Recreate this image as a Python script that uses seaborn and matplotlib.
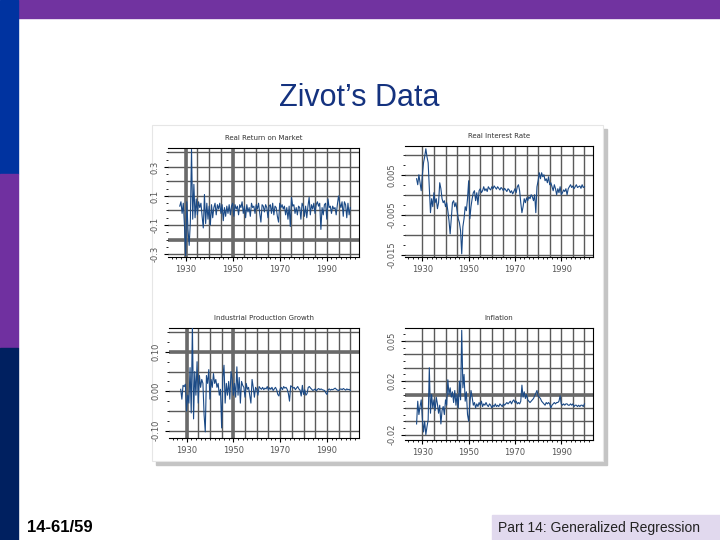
import numpy as np
import seaborn as sns
import matplotlib
matplotlib.use('Agg')
import matplotlib.pyplot as plt
from matplotlib.patches import Rectangle
from matplotlib.ticker import MultipleLocator, FixedLocator, FixedFormatter

# half-yearly readings, 1927.5 .. 2000
years = np.arange(1927.5, 2000.01, 0.5)

real_return = [
    0.03, 0.06, -0.02, 0.05, -0.10, -0.31, 0.06, -0.13, -0.24, -0.08,
    0.42, -0.06, 0.18, -0.05, 0.08, -0.03, 0.06, 0.02, 0.05, -0.04,
    -0.12, 0.11, -0.09, 0.05, -0.06, 0.03, -0.10, 0.04, -0.05, 0.02,
    0.05, -0.03, 0.04, 0.01, 0.05, -0.02, 0.04, -0.07, 0.02, -0.04,
    0.03, -0.02, 0.04, -0.03, 0.03, 0.05, -0.04, 0.04, 0.01, 0.03,
    -0.03, 0.04, 0.02, 0.06, -0.02, 0.03, -0.05, 0.04, -0.01, 0.02,
    -0.04, 0.05, 0.02, 0.03, -0.02, 0.04, 0.01, 0.05, -0.02, -0.08,
    0.04, 0.03, -0.01, 0.04, 0.02, -0.05, 0.03, 0.04, -0.02, 0.05,
    -0.03, 0.03, 0.02, -0.04, -0.08, 0.05, 0.02, 0.04, 0.01, 0.03,
    -0.03, 0.02, -0.06, 0.03, -0.11, 0.09, 0.03, 0.04, -0.02, 0.02,
    -0.03, 0.03, 0.02, -0.06, 0.05, 0.03, -0.04, 0.03, -0.05, 0.03,
    0.09, -0.03, 0.04, 0.01, 0.05, -0.02, 0.04, 0.06, 0.03, 0.05,
    -0.13, 0.02, -0.03, 0.04, 0.05, -0.06, 0.08, 0.02, 0.03, -0.02,
    0.03, 0.01, 0.02, -0.03, 0.04, 0.10, 0.05, 0.02, 0.06, -0.04,
    0.06, 0.04, -0.05, 0.05, -0.03, 0.02,
]

real_rate = [
    0.004, 0.0025, 0.005, 0.003, 0.001, 0.005, 0.008, 0.0095, 0.0115, 0.0095,
    0.008, 0.002, -0.0045, -0.001, -0.003, 0.0005, -0.002, -0.001, -0.0035, -0.002,
    0.003, 0.0015, -0.001, -0.002, -0.0015, -0.003, -0.002, -0.004, -0.0065, -0.0098,
    -0.006, -0.002, -0.0015, -0.003, -0.002, -0.004, -0.006, -0.007, -0.009, -0.0148,
    -0.008, -0.006, -0.003, -0.004, -0.001, 0.0035, -0.006, -0.003, -0.001, 0.0005,
    0.001, -0.0015, 0.0005, -0.0025, 0.001, 0.0015, 0.0005, 0.001, 0.002, 0.001,
    0.0015, 0.0008, 0.002, 0.0015, 0.0012, 0.002, 0.0015, 0.0022, 0.0018, 0.0014,
    0.002, 0.0016, 0.0012, 0.0018, 0.0015, 0.001, 0.0016, 0.0012, 0.0008, 0.0015,
    0.0012, 0.0005, 0.001, 0.0002, 0.0008, 0.0015, 0.0005, 0.002, 0.0025, 0.001,
    -0.002, -0.0045, -0.003, -0.001, -0.002, -0.0008, -0.0015, -0.0005, -0.001, 0.0,
    -0.0005, -0.0015, 0.0, -0.0045, 0.002, 0.0035, 0.0055, 0.004, 0.0055, 0.0045,
    0.005, 0.0035, 0.004, 0.003, 0.0045, 0.0025, 0.003, 0.002, 0.001, 0.0025,
    0.0015, 0.0, 0.0015, 0.0005, 0.002, 0.0, 0.0005, 0.0012, 0.0008, 0.0015,
    0.0, 0.0015, 0.002, 0.0025, 0.0018, 0.0022, 0.0015, 0.002, 0.0025, 0.0018,
    0.002, 0.0022, 0.0016, 0.0025, 0.0018, 0.002,
]

ind_prod = [
    0.005, -0.02, 0.015, 0.012, 0.018, -0.05, -0.01, -0.03, 0.06, -0.055,
    0.17, -0.07, 0.05, -0.01, 0.075, -0.03, 0.04, 0.01, 0.03, 0.02,
    -0.06, -0.103, 0.04, 0.02, 0.055, -0.02, 0.03, 0.01, 0.045, 0.02,
    0.03, 0.01, 0.02, -0.01, 0.005, -0.093, 0.035, 0.066, -0.03, 0.02,
    -0.01, 0.025, -0.02, 0.05, 0.03, -0.01, 0.02, -0.015, 0.062, -0.01,
    0.035, -0.03, 0.025, 0.015, 0.01, -0.015, 0.02, 0.005, 0.01, -0.01,
    -0.03, 0.03, 0.01, -0.015, 0.01, 0.005, -0.01, 0.012, 0.008, 0.005,
    0.01, 0.004, 0.008, 0.006, 0.012, 0.003, 0.009, 0.005, 0.01, 0.002,
    0.006, 0.01, 0.004, -0.008, -0.012, 0.006, 0.01, 0.004, 0.012, 0.008,
    0.01, 0.005, -0.005, -0.025, 0.014, 0.012, 0.008, 0.01, 0.004, 0.008,
    0.012, 0.006, 0.003, -0.012, 0.015, -0.008, 0.004, -0.01, -0.006, 0.01,
    0.012, 0.008, 0.005, 0.002, 0.004, 0.006, 0.001, 0.005, 0.007, 0.004,
    0.006, 0.004, 0.003, 0.002, -0.004, -0.008, 0.004, 0.006, 0.003, 0.005,
    0.004, 0.006, 0.008, 0.005, 0.003, 0.002, 0.005, 0.006, 0.004, 0.007,
    0.005, 0.003, 0.006, 0.004, 0.005, 0.002,
]

inflation = [
    -0.012, 0.005, -0.005, 0.001, 0.006, -0.008, -0.018, -0.010, -0.020, -0.014,
    -0.009, 0.030, -0.004, 0.010, 0.0, 0.006, -0.002, 0.008, 0.003, -0.004,
    0.002, -0.012, -0.002, 0.001, -0.005, 0.006, 0.002, 0.021, 0.010, 0.015,
    0.008, 0.012, 0.004, 0.013, 0.002, 0.010, 0.0, 0.020, 0.006, 0.058,
    0.015, 0.025, 0.005, 0.012, -0.005, -0.010, 0.003, 0.013, 0.008, 0.002,
    0.004, 0.0, 0.003, 0.001, 0.004, 0.002, 0.005, 0.001, 0.003, 0.002,
    0.004, 0.002, 0.001, 0.003, 0.002, 0.0, 0.002, 0.001, 0.003, 0.001,
    0.002, 0.001, 0.003, 0.002, 0.001, 0.003, 0.002, 0.003, 0.004, 0.003,
    0.004, 0.005, 0.003, 0.005, 0.006, 0.004, 0.005, 0.003, 0.004, 0.003,
    0.005, 0.017, 0.008, 0.012, 0.007, 0.010, 0.006, 0.005, 0.004, 0.005,
    0.006, 0.007, 0.009, 0.011, 0.013, 0.009, 0.008, 0.007, 0.005, 0.004,
    0.003, 0.002, 0.004, 0.003, 0.004, 0.003, 0.0, 0.002, 0.003, 0.004,
    0.003, 0.004, 0.004, 0.005, 0.009, 0.003, 0.002, 0.003, 0.002, 0.003,
    0.003, 0.002, 0.002, 0.003, 0.002, 0.003, 0.001, 0.002, 0.002, 0.001,
    0.002, 0.001, 0.002, 0.002, 0.001, 0.003,
]

year_labels = ['1930', '1950', '1970', '1990']

# title, series, ylim, grid step, labelled ticks, tick texts, thick lines
panels = [
    ('Real Return on Market', real_return, (-0.32, 0.43), 0.1,
     [0.3, 0.1, -0.1, -0.3], ['0.3', '0.1', '-0.1', '-0.3'],
     [1930, 1950], [-0.2]),
    ('Real Interest Rate', real_rate, (-0.0156, 0.0122), 0.005,
     [0.005, -0.005, -0.015], ['0.005', '-0.005', '-0.015'],
     [], []),
    ('Industrial Production Growth', ind_prod, (-0.1185, 0.1605), 0.05,
     [0.10, 0.00, -0.10], ['0.10', '0.00', '-0.10'],
     [1930, 1950], [0.10]),
    ('Inflation', inflation, (-0.024, 0.0597), 0.01,
     [0.05, 0.02, -0.02], ['0.05', '0.02', '-0.02'],
     [], [0.01]),
]

# axes boxes in pixels: left, top, right, bottom
boxes = [(168, 148, 359, 257), (405, 146, 593, 257),
         (169, 328, 359, 438), (405, 328, 593, 440)]

W, H = 720, 540
fig = plt.figure(figsize=(7.2, 5.4), dpi=100)
fig.patch.set_facecolor('white')


def add_rect(x, y, w, h, **kw):
    # pixel box measured from the top-left corner of the slide
    fig.patches.append(Rectangle((x / W, 1 - (y + h) / H), w / W, h / H,
                                 transform=fig.transFigure, zorder=-5, **kw))


# slide decoration
add_rect(18, 0, 702, 18, color='#7133A0')
add_rect(0, 0, 18, 174, color='#0033A0')
add_rect(0, 174, 18, 174, color='#7030A0')
add_rect(0, 348, 18, 192, color='#002060')
add_rect(492, 515, 228, 25, color='#E1D9EE')

# panel with drop shadow
add_rect(156, 129, 451, 336, color='#C4C4C4')
add_rect(152, 125, 451, 336, facecolor='white', edgecolor='#E6E6E6', lw=0.8)

fig.text(359 / W, 1 - 98 / H, 'Zivot\u2019s Data', ha='center', va='center',
         fontsize=22, color='#14327F', family='Liberation Sans')
fig.text(27 / W, 1 - 527 / H, '14-61/59', ha='left', va='center',
         fontsize=12, fontweight='bold', color='black', family='Liberation Sans')
fig.text(498 / W, 1 - 528 / H, 'Part 14: Generalized Regression', ha='left', va='center',
         fontsize=10, color='#222222', family='Liberation Sans')

for (title, vals, ylim, step, yt, ytl, vthick, hthick), (l, t, r, b) in zip(panels, boxes):
    ax = fig.add_axes([l / W, 1 - b / H, (r - l) / W, (b - t) / H])
    ax.set_facecolor('white')
    for xv in np.arange(1930, 2001, 5):
        ax.axvline(xv, color='#5A5A5A', lw=1.0, zorder=1)
    lo = np.ceil(ylim[0] / step - 1e-6) * step
    for yv in np.arange(lo, ylim[1], step):
        ax.axhline(yv, color='#5A5A5A', lw=1.0, zorder=1)
    for xv in vthick:
        ax.axvline(xv, color='#6A6A6A', lw=2.6, zorder=1)
    for yv in hthick:
        ax.axhline(yv, color='#6A6A6A', lw=2.6, zorder=1)

    sns.lineplot(x=years, y=vals, ax=ax, color='#1B4A86', linewidth=0.8, zorder=3)

    ax.set_xlim(1922.5, 2003.7)
    ax.set_ylim(*ylim)
    ax.xaxis.set_major_locator(FixedLocator([1930, 1950, 1970, 1990]))
    ax.xaxis.set_major_formatter(FixedFormatter(year_labels))
    ax.xaxis.set_minor_locator(MultipleLocator(2))
    ax.yaxis.set_major_locator(FixedLocator(yt))
    ax.yaxis.set_major_formatter(FixedFormatter(ytl))
    ax.yaxis.set_minor_locator(MultipleLocator(step / 2))
    ax.tick_params(axis='both', which='major', labelsize=6, labelcolor='#555555',
                   color='black', length=3, width=0.8, pad=3)
    ax.tick_params(axis='both', which='minor', color='black', length=1.5, width=0.6)
    for lab in ax.get_yticklabels():
        lab.set_rotation(90)
        lab.set_va('center')
    for sp in ax.spines.values():
        sp.set_color('black')
        sp.set_linewidth(0.8)
    ax.spines['left'].set_visible(False)
    ax.set_xlabel('')
    ax.set_ylabel('')
    ax.set_title(title, fontsize=5, color='#333333', pad=6)

fig.savefig('out.png', dpi=100)
